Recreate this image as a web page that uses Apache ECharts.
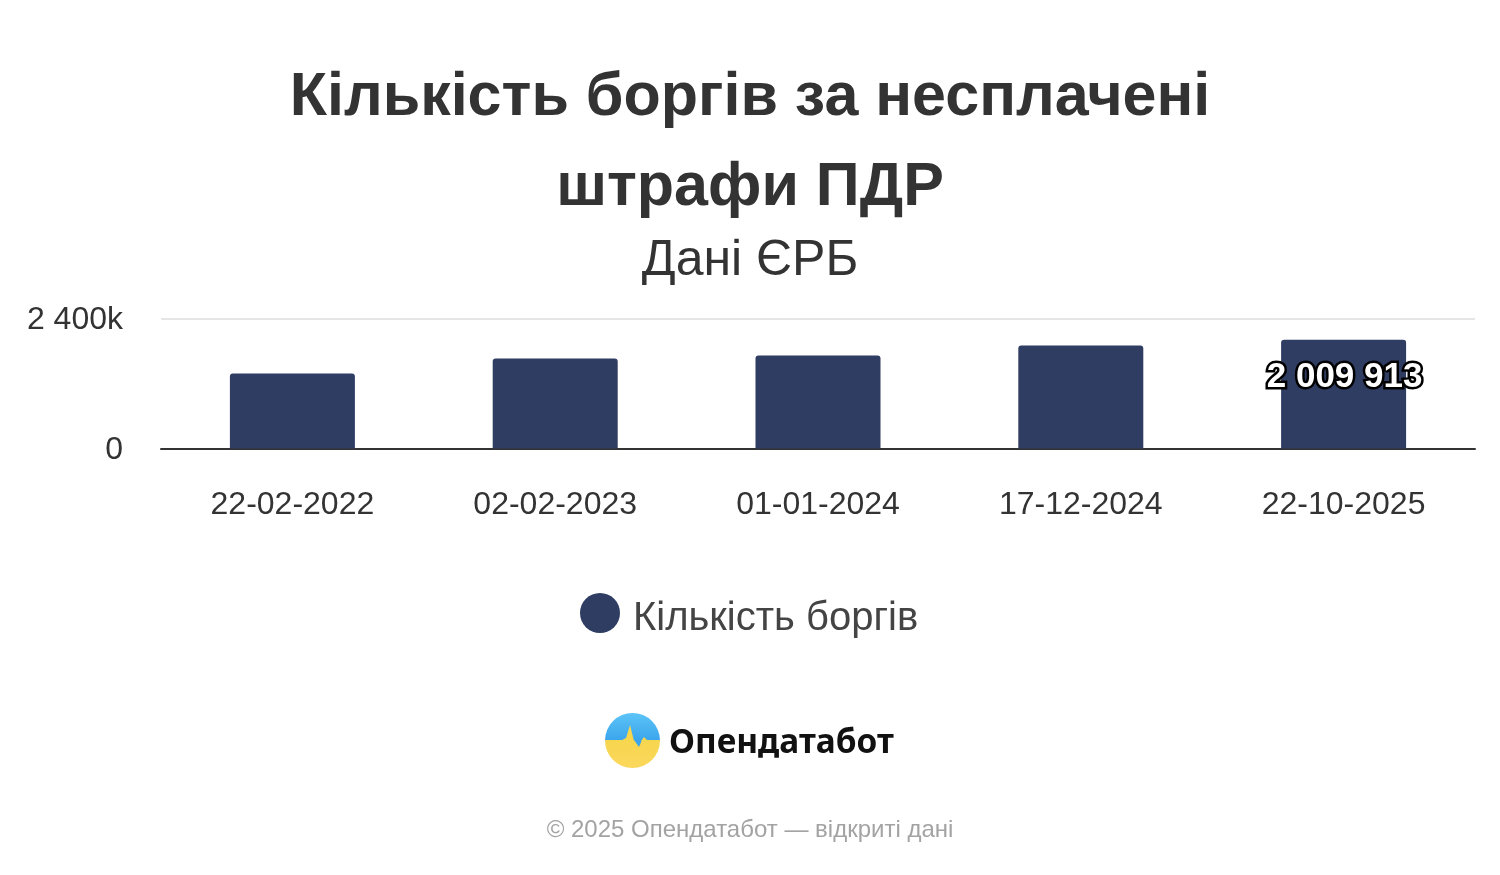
<!DOCTYPE html>
<html><head><meta charset="utf-8">
<style>html,body{margin:0;padding:0;background:#fff}#c{width:1500px;height:875px}</style>
<script src="https://cdn.jsdelivr.net/npm/echarts@6/dist/echarts.min.js"></script>
</head><body><div id="c"></div>
<script>
const categories = ['22-02-2022','02-02-2023','01-01-2024','17-12-2024','22-10-2025'];
const debts = [1385000,1662000,1717000,1900000,2009913];
const seriesName = 'Кількість боргів';
const titleText = 'Кількість боргів за несплачені\nштрафи ПДР';
const subtitleText = 'Дані ЄРБ';
const logoText = 'Опендатабот';
const creditText = '© 2025 Опендатабот — відкриті дані';
const F = '"Liberation Sans", Arial, sans-serif';
const chart = echarts.init(document.getElementById('c'));
chart.setOption({
  animation:false,
  backgroundColor:'#fff',
  title:{text:titleText,subtext:subtitleText,left:'center',top:48,
    textStyle:{fontFamily:F,fontSize:61,fontWeight:'bold',color:'#333',lineHeight:90},
    subtextStyle:{fontFamily:F,fontSize:50,color:'#333',lineHeight:50},itemGap:3},
  grid:{left:161,width:1314,top:318.5,height:130,containLabel:false},
  legend:{show:true,left:575,top:588,icon:'circle',itemWidth:40,itemHeight:40,itemGap:10,
    formatter:n=>'{a|'+n+'}',
    textStyle:{fontFamily:F,fontSize:40,color:'#444',padding:[0,0,0,8],
      rich:{a:{fontFamily:F,fontSize:40,color:'#444',padding:[12,0,0,0]}}},data:[seriesName]},
  xAxis:{type:'category',data:categories,
    axisLine:{lineStyle:{color:'#333',width:2}},axisTick:{show:false},
    axisLabel:{fontFamily:F,fontSize:32,color:'#333',margin:41}},
  yAxis:{type:'value',min:0,max:2400000,interval:2400000,
    axisLine:{show:false},axisTick:{show:false},
    splitLine:{lineStyle:{color:'#e6e6e6',width:2}},
    axisLabel:{fontFamily:F,fontSize:32,color:'#333',margin:38,verticalAlign:'top',lineHeight:4,
      formatter:v=>v===0?'0':(v/1000).toLocaleString('uk-UA').replace(/\s/g,' ')+'k'}},
  series:[{type:'bar',name:seriesName,data:debts.map((v,i)=>i===debts.length-1?{value:v,label:{show:true}}:v),
    barWidth:125,itemStyle:{color:'#2f3d62',borderRadius:[3,3,0,0]},
    label:{show:false,position:'insideTop',distance:20,offset:[1,0],fontFamily:F,fontSize:35,fontWeight:'bold',
      color:'#fff',textBorderColor:'#000',textBorderWidth:5,
      formatter:p=>String(p.value).replace(/\B(?=(\d{3})+$)/g,' ')}}],
  graphic:[
    {type:'circle',shape:{cx:632.5,cy:740.5,r:27.5},style:{fill:new echarts.graphic.LinearGradient(0,0,0,1,[
      {offset:0,color:'#5cc4f7'},{offset:0.5,color:'#3aa5ec'},{offset:0.5,color:'#f7d64f'},{offset:1,color:'#fbd85c'}])}},
    {type:'polygon',shape:{points:[[620,741],[626,738],[630,725],[634,741]]},style:{fill:'#f7d64f'}},
    {type:'polygon',shape:{points:[[634,740],[639,747],[642,740]]},style:{fill:'#3aa5ec'}},
    {type:'polygon',shape:{points:[[641,741],[644,737],[648,741]]},style:{fill:'#f7d64f'}},
    {type:'text',style:{text:logoText,x:669,y:743,verticalAlign:'middle',fontFamily:'"Noto Sans"',fontSize:33.4,fontWeight:'bold',fill:'#111'}},
    {type:'text',style:{text:creditText,x:750,y:830,align:'center',verticalAlign:'middle',fontFamily:F,fontSize:24,fill:'#a3a3a3'}}
  ]
});
</script></body></html>
